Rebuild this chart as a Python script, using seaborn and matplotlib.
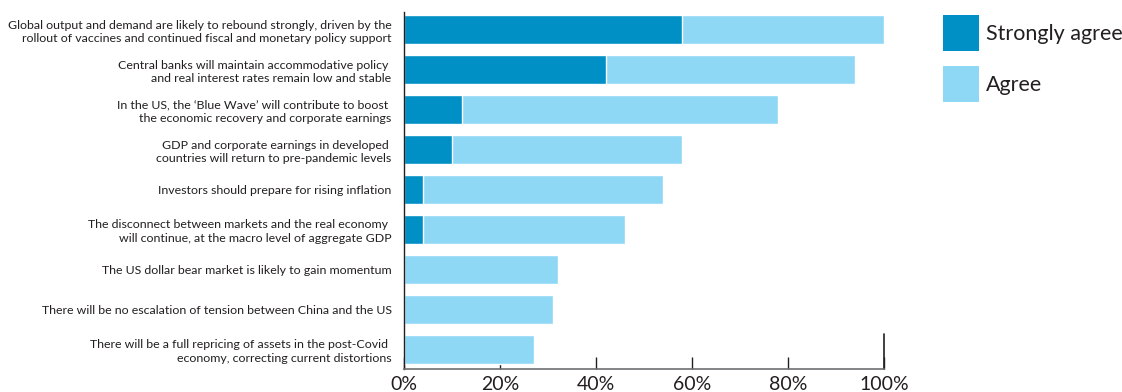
import matplotlib
matplotlib.use("Agg")
import matplotlib.pyplot as plt
from matplotlib.patches import Patch
import seaborn as sns
import pandas as pd

statements = [
    "Global output and demand are likely to rebound strongly, driven by the\nrollout of vaccines and continued fiscal and monetary policy support",
    "Central banks will maintain accommodative policy \nand real interest rates remain low and stable",
    "In the US, the \u2018Blue Wave\u2019 will contribute to boost \nthe economic recovery and corporate earnings",
    "GDP and corporate earnings in developed \ncountries will return to pre-pandemic levels",
    "Investors should prepare for rising inflation",
    "The disconnect between markets and the real economy \nwill continue, at the macro level of aggregate GDP",
    "The US dollar bear market is likely to gain momentum",
    "There will be no escalation of tension between China and the US",
    "There will be a full repricing of assets in the post-Covid \neconomy, correcting current distortions",
]
strongly_agree = [58, 42, 12, 10, 4, 4, 0, 0, 0]
agree = [42, 52, 66, 48, 50, 42, 32, 31, 27]
tick_values = [0, 20, 40, 60, 80, 100]
tick_labels = ["0%", "20%", "40%", "60%", "80%", "100%"]
series_names = ["Strongly agree", "Agree"]

DARK = "#0090c5"
LIGHT = "#8ed8f6"

sns.set_theme(style="white")
plt.rcParams["font.family"] = ["Lato", "DejaVu Sans"]

df = pd.DataFrame({
    "statement": statements,
    "strong": strongly_agree,
    "total": [s + a for s, a in zip(strongly_agree, agree)],
})

fig = plt.figure(figsize=(11.22, 3.92), dpi=100)
ax = fig.add_axes([404 / 1122, 1 - 369 / 392, 480 / 1122, 357 / 392])

sns.barplot(data=df, x="total", y="statement", color=LIGHT, width=0.725,
            saturation=1, ax=ax, orient="h")
sns.barplot(data=df, x="strong", y="statement", color=DARK, width=0.725,
            saturation=1, ax=ax, orient="h")

ax.set_xlim(0, 100)
ax.set_ylim(8.49, -0.44)
ax.set_xlabel("")
ax.set_ylabel("")
ax.set_xticks(tick_values)
ax.set_xticklabels(tick_labels, fontsize=14, color="#231f20")
ax.tick_params(axis="x", direction="in", length=9, width=1, color="#231f20",
               pad=5, bottom=True)
ax.tick_params(axis="y", length=0, pad=9, labelsize=8.9, labelcolor="#231f20")
for lbl in ax.get_yticklabels():
    lbl.set_horizontalalignment("right")
    lbl.set_linespacing(1.3)

for side in ["top", "right"]:
    ax.spines[side].set_visible(False)
ax.spines["left"].set_color("#231f20")
ax.spines["left"].set_linewidth(1)
ax.spines["bottom"].set_color("#6d6e71")
ax.spines["bottom"].set_linewidth(1.2)
ax.axvline(100, ymin=0, ymax=35 / 357, color="#231f20", lw=1.2, clip_on=False)

handles = [Patch(facecolor=DARK, edgecolor="none"), Patch(facecolor=LIGHT, edgecolor="none")]
fig.legend(handles, series_names, loc="upper left",
           bbox_to_anchor=(943 / 1122, 1 - 15 / 392), frameon=False,
           fontsize=15.5, handlelength=1.66, handleheight=2.2,
           handletextpad=0.35, labelspacing=0.7, borderpad=0, borderaxespad=0,
           labelcolor="#231f20")

fig.savefig("out.png", dpi=100)
